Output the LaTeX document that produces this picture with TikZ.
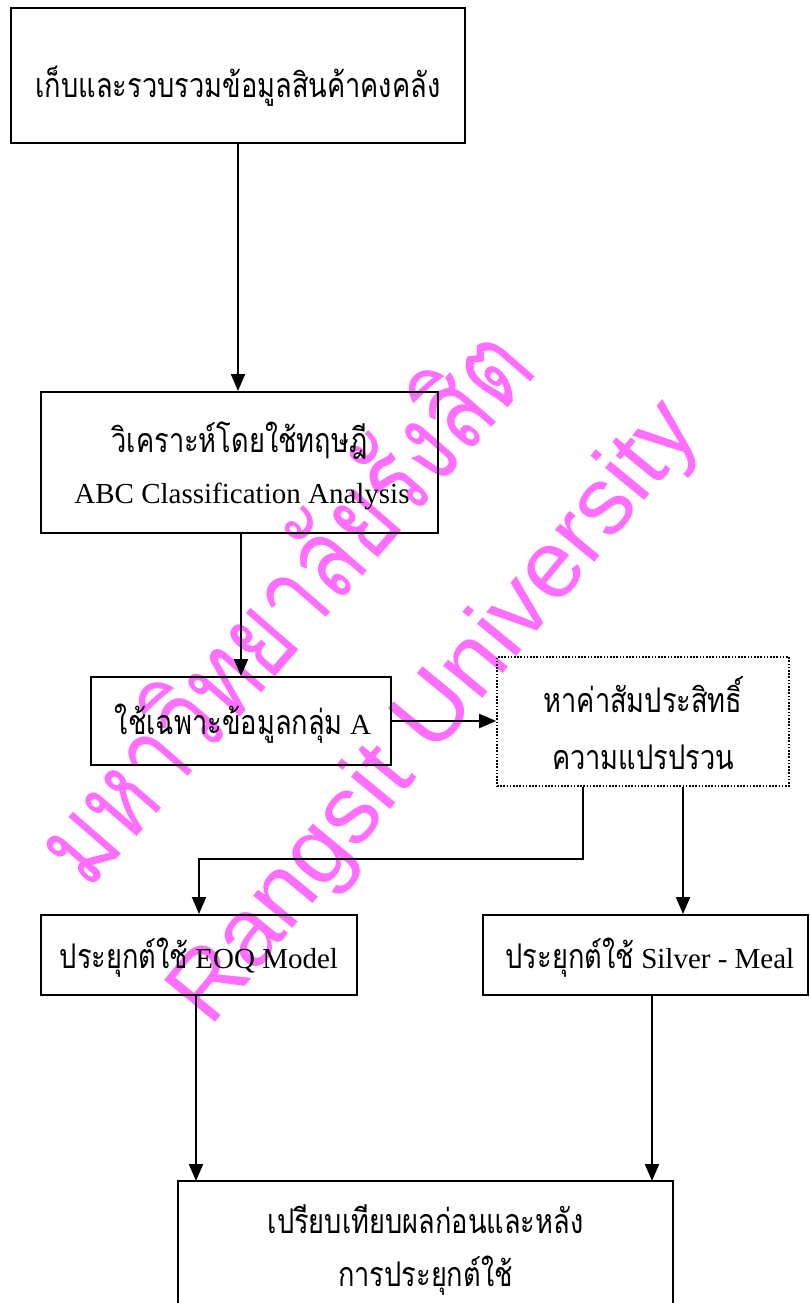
\documentclass[tikz,border=0pt]{standalone}
\usepackage{fontspec}
\setmainfont{Liberation Serif}
\newfontfamily\thai[Script=Thai,FakeStretch=0.8]{Loma}
\newfontfamily\wmthai[Script=Thai,FakeStretch=0.78]{Loma}
\newfontfamily\wmlatin{Liberation Sans}
\newcommand{\thaitxt}[1]{{\thai\fontsize{34}{40}\selectfont #1}}
\usetikzlibrary{arrows.meta}
\definecolor{wm}{RGB}{255,110,255}
\begin{document}
\begin{tikzpicture}[x=1pt,y=-1pt,
  box/.style={draw,line width=1.9pt,inner sep=0pt},
  dotbox/.style={draw,line width=1.6pt,inner sep=0pt,dash pattern=on 1.6pt off 1.6pt},
  arr/.style={line width=1.9pt,-{Triangle[length=17pt,width=14pt]}},
  ln/.style={line width=1.9pt},
  txt/.style={font=\fontsize{29}{34}\selectfont,inner sep=0pt,anchor=base},
  wmark/.style={text=wm,inner sep=0pt}]
\useasboundingbox (0,0) rectangle (810,1303);
% watermark
\node[wmark,rotate=49,font=\wmthai\fontsize{114}{114}\selectfont] (wm1) at (280,602) {มหาวิทยาลัยรังสิต};
\node[wmark,rotate=50.5,font=\wmlatin\fontsize{96}{96}\selectfont] (wm2) at (437,714) {Rangsit University};
% boxes
\node[box,minimum width=454pt,minimum height=135pt] (b1) at (238,75.5) {};
\node[box,minimum width=397pt,minimum height=141pt] (b2) at (239.5,462.5) {};
\node[box,minimum width=300pt,minimum height=88pt] (b3) at (241,721) {};
\node[dotbox,minimum width=292pt,minimum height=129pt] (b4) at (643,721.5) {};
\node[box,minimum width=316pt,minimum height=80pt] (b5) at (199,955) {};
\node[box,minimum width=325pt,minimum height=80pt] (b6) at (645.5,955) {};
\coordinate (b7nw) at (178,1181);
\coordinate (b7ne) at (673,1181);
\coordinate (b7sw) at (178,1303);
\coordinate (b7se) at (673,1303);
\draw[ln] (b7sw) -- (b7nw) -- (b7ne) -- (b7se);
% texts
\node[txt] (t1) at (238,98) {\thaitxt{เก็บและรวบรวมข้อมูลสินค้าคงคลัง}};
\node[txt] (t2a) at (239.5,452) {\thaitxt{วิเคราะห์โดยใช้ทฤษฎี}};
\node[txt] (t2b) at (242,503) {ABC Classification Analysis};
\node[txt] (t3) at (243,734) {\thaitxt{ใช้เฉพาะข้อมูลกลุ่ม} A};
\node[txt] (t4a) at (643,712) {\thaitxt{หาค่าสัมประสิทธิ์}};
\node[txt] (t4b) at (643,769) {\thaitxt{ความแปรปรวน}};
\node[txt] (t5) at (199,968) {\thaitxt{ประยุกต์ใช้} EOQ Model};
\node[txt] (t6) at (650,968) {\thaitxt{ประยุกต์ใช้} Silver - Meal};
\node[txt] (t7a) at (425.5,1233) {\thaitxt{เปรียบเทียบผลก่อนและหลัง}};
\node[txt] (t7b) at (425.5,1286) {\thaitxt{การประยุกต์ใช้}};
% connectors
\draw[arr] (b1.south) -- (b1.south |- b2.north);
\draw[arr] (b2.south -| b3.north) -- (b3.north);
\draw[arr] (b3.east) -- (b3.east -| b4.west);
\coordinate (j1) at (583,859);
\draw[arr] (b4.south -| j1) -- (j1) -| (b5.north);
\draw[arr] ([xshift=40pt]b4.south) -- ([xshift=40pt]b4.south |- b6.north);
\draw[arr] (b5.south -| 196,0) -- (b7nw -| 196,0);
\draw[arr] (b6.south -| 652,0) -- (b7nw -| 652,0);
\end{tikzpicture}
\end{document}
